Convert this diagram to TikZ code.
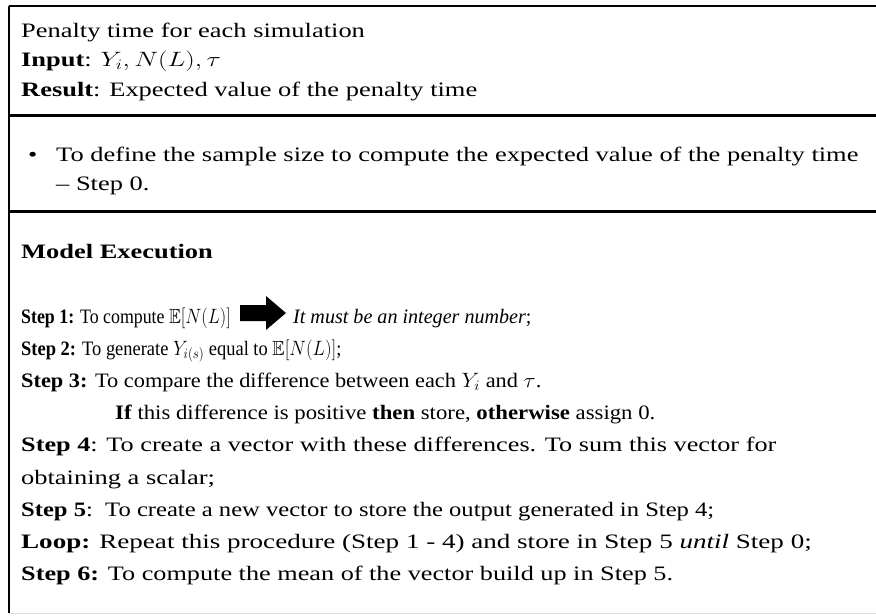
\documentclass[tikz,border=0pt]{standalone}
\usepackage{amsmath,amssymb}
\usepackage{graphicx}
\usepackage{fontspec}
\setmainfont{Liberation Serif}
\newcommand{\sqz}[2]{\scalebox{#1}[1]{#2}}
\begin{document}
\begin{tikzpicture}[x=1pt,y=-1pt,
  txt/.style={anchor=base west,inner sep=0pt,font=\fontsize{20.5}{24}\selectfont},
  rule/.style={line width=#1,black}]
\useasboundingbox (0,0) rectangle (876,616);
\fill[white] (0,0) rectangle (876,616);
% frame
\draw[rule=2.5pt] (9,6) -- (876,6);
\draw[rule=1.8pt] (9,6) -- (9,613);
\draw[rule=3pt] (9,115) -- (876,115);
\draw[rule=3pt] (9,211) -- (876,211);
\draw[line width=1pt,black!12] (9,613) -- (876,613);
% header
\node[txt] (t1) at (21,37) {\sqz{1.29}{Penalty time for each simulation}};
\node[txt] (t2) at (21,66) {\sqz{1.29}{\textbf{Input}: $Y_i, N(L), \tau$}};
\node[txt] (t3) at (21,96) {\sqz{1.29}{\textbf{Result}: Expected value of the penalty time}};
% bullet
\node[txt] (b0) at (28,161) {\sqz{1.29}{•}};
\node[txt] (b1) at (56,161) {\sqz{1.29}{To define the sample size to compute the expected value of the penalty time}};
\node[txt] (b2) at (56,190) {\sqz{1.29}{– Step 0.}};
% model
\node[txt] (m0) at (21,258) {\sqz{1.29}{\textbf{Model Execution}}};
\node[txt] (s1) at (21,323) {\sqz{0.87}{\textbf{Step 1:} To compute $\mathbb{E}[N(L)]$}};
\node[txt] (s1b) at (293,323) {\sqz{0.98}{\textit{It must be an integer number};}};
\node[txt] (s2) at (21,355) {\sqz{0.9}{\textbf{Step 2:} To generate $Y_{i(s)}$ equal to $\mathbb{E}[N(L)]$;}};
\node[txt] (s3) at (21,387) {\sqz{1.09}{\textbf{Step 3:} To compare the difference between each $Y_i$ and $\tau$.}};
\node[txt] (s3b) at (115,419) {\sqz{1.11}{\textbf{If} this difference is positive \textbf{then} store, \textbf{otherwise} assign 0.}};
\node[txt] (s4) at (21,451) {\sqz{1.28}{\textbf{Step 4}: To create a vector with these differences. To sum this vector for}};
\node[txt] (s4b) at (21,484) {\sqz{1.29}{obtaining a scalar;}};
\node[txt] (s5) at (21,516) {\sqz{1.2}{\textbf{Step 5}:\ \ To create a new vector to store the output generated in Step 4;}};
\node[txt] (lp) at (21,548) {\sqz{1.32}{\textbf{Loop:} Repeat this procedure (Step 1 - 4) and store in Step 5 \textit{until} Step 0;}};
\node[txt] (s6) at (21,580) {\sqz{1.28}{\textbf{Step 6:} To compute the mean of the vector build up in Step 5.}};
% block arrow
\fill[black] (240,305) -- (266,305) -- (266,296) -- (286,313) -- (266,330) -- (266,321) -- (240,321) -- cycle;
\end{tikzpicture}
\end{document}
